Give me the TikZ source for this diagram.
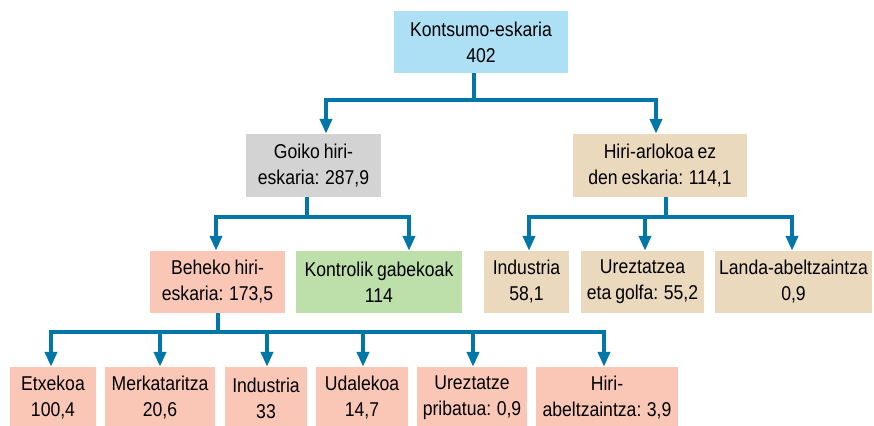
\documentclass[tikz,border=0pt]{standalone}
\usepackage{fontspec}
\setmainfont{Liberation Sans}[FakeStretch=0.88, WordSpace=0.8]
\usepackage{xcolor}
\usetikzlibrary{
    arrows.meta,
    positioning,
    calc
}
\definecolor{linkblue}{RGB}{0,119,166}
\definecolor{boxblue}{RGB}{174,224,245}
\definecolor{boxgray}{RGB}{211,211,211}
\definecolor{boxsand}{RGB}{235,217,190}
\definecolor{boxsalmon}{RGB}{250,199,183}
\definecolor{boxgreen}{RGB}{189,223,170}

\begin{document}
\begin{tikzpicture}[x=1pt, y=-1pt,
        box/.style={rectangle, inner sep=0pt, minimum height=62pt, align=center, font=\fontsize{20}{26}\selectfont},
        link/.style={-{Triangle[width=12pt,length=15pt]}, line width=4pt, draw=linkblue}
    ]
        \useasboundingbox (0,0) rectangle (874,425);

        % top levels
        \node[box, fill=boxblue, minimum width=174pt] (top) at (481,42) {Kontsumo-eskaria\\402};
        \node[box, fill=boxgray, minimum width=135pt, minimum height=63pt] (goiko) at (313.5,165.5) {Goiko hiri-\\eskaria: 287,9};
        \node[box, fill=boxsand, minimum width=174pt, minimum height=63pt] (ezhiri) at (660,165.5) {Hiri-arlokoa ez\\den eskaria: 114,1};

        % middle row
        \node[box, fill=boxsalmon, minimum width=135pt] (beheko) at (217.5,282) {Beheko hiri-\\eskaria: 173,5};
        \node[box, fill=boxgreen, minimum width=166pt] (kontrol) at (379,282) {Kontrolik gabekoak\\114};
        \node[box, fill=boxsand, minimum width=85pt] (ind) at (526.5,282) {Industria\\58,1};
        \node[box, fill=boxsand, minimum width=123pt] (urez) at (642.5,282) {Ureztatzea\\eta golfa: 55,2};
        \node[box, fill=boxsand, minimum width=157pt] (landa) at (793.5,282) {Landa-abeltzaintza\\0,9};

        % bottom row
        \node[box, fill=boxsalmon, minimum width=86pt] (etxe) at (53,398) {Etxekoa\\100,4};
        \node[box, fill=boxsalmon, minimum width=110pt] (merk) at (160,398) {Merkataritza\\20,6};
        \node[box, fill=boxsalmon, minimum width=82pt] (indb) at (266,398) {Industria\\33};
        \node[box, fill=boxsalmon, minimum width=92pt] (udal) at (362,398) {Udalekoa\\14,7};
        \node[box, fill=boxsalmon, minimum width=110pt] (urepr) at (472,398) {Ureztatze\\pribatua: 0,9};
        \node[box, fill=boxsalmon, minimum width=142pt] (abel) at (607,398) {Hiri-\\abeltzaintza: 3,9};

        \draw[link] ([xshift=-7pt]top.south) -- ++(0,27) -| ([xshift=12.5pt]goiko.north);
        \draw[link] ([xshift=-7pt]top.south) -- ++(0,27) -| ([xshift=-4pt]ezhiri.north);

        \draw[link] ([xshift=-6.5pt]goiko.south) -- ++(0,20) -| ([xshift=-1.5pt]beheko.north);
        \draw[link] ([xshift=-6.5pt]goiko.south) -- ++(0,20) -| ([xshift=30pt]kontrol.north);

        \foreach \n/\dx in {ind/2.5, urez/2.5, landa/-1.5}
            \draw[link] ([xshift=6pt]ezhiri.south) -- ++(0,20) -| ([xshift=\dx pt]\n.north);

        \foreach \n/\dx in {etxe/-2, merk/0, indb/1, udal/1, urepr/1, abel/-3}
            \draw[link] (beheko.south) -- ++(0,19) -| ([xshift=\dx pt]\n.north);
    \end{tikzpicture}
\end{document}
